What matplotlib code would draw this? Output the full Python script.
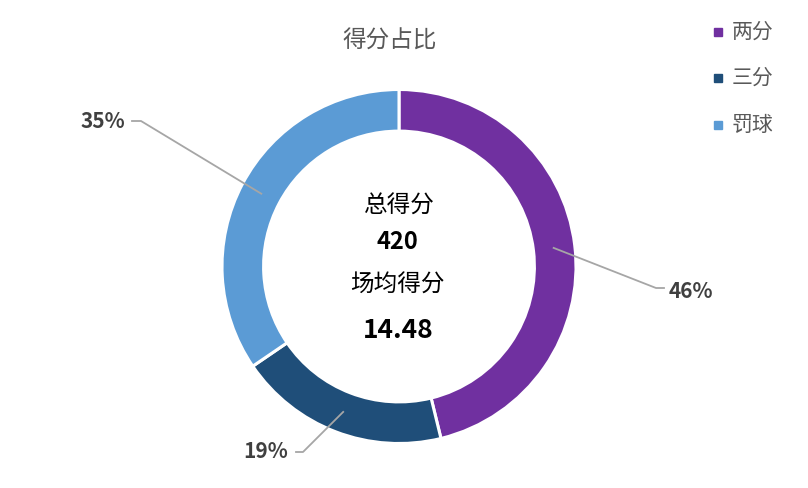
import numpy as np
import matplotlib
matplotlib.use("Agg")
import matplotlib.pyplot as plt

plt.rcParams['font.family'] = ['Noto Sans CJK SC', 'DejaVu Sans']

categories = ['两分', '三分', '罚球']
points = [194, 81, 145]
colors = ['#7030A0', '#1F4E79', '#5B9BD5']
title = '得分占比'
center_labels = ['总得分', '420', '场均得分', '14.48']

W, H = 808, 488
fig = plt.figure(figsize=(W / 100, H / 100), dpi=100)
cx, cy, R = 399, 266.5, 177
ax = fig.add_axes([(cx - R) / W, (H - cy - R) / H, 2 * R / W, 2 * R / H])

wedges, _ = ax.pie(points, colors=colors, startangle=90, counterclock=False,
                   radius=1.0, wedgeprops=dict(width=0.235, edgecolor='white', linewidth=2.2))
ax.set_xlim(-1, 1)
ax.set_ylim(-1, 1)
ax.set_aspect('equal', adjustable='box')
ax.axis('off')

def px(x, y):
    return (x - cx) / R, (cy - y) / R

total = sum(points)
# label layout (pixel positions of elbow, line end, text center)
layout = {
    0: ((656, 288), (664, 288), (691, 291)),
    1: ((303, 452), (296, 452), (266, 452)),
    2: ((141, 121), (132, 121), (102.5, 121.5)),
}
for i, w in enumerate(wedges):
    ang = np.deg2rad((w.theta1 + w.theta2) / 2)
    x0, y0 = 0.88 * np.cos(ang), 0.88 * np.sin(ang)
    e, l, t = layout[i]
    ex, ey = px(*e)
    lx, ly = px(*l)
    ax.plot([x0, ex, lx], [y0, ey, ly], color='#A6A6A6', lw=1.3, clip_on=False)
    tx, ty = px(*t)
    pct = round(points[i] / total * 100)
    ax.text(tx, ty, f'{pct}%', ha='center', va='center', fontsize=15,
            fontweight='bold', color='#404040', clip_on=False)

# center texts
ax.text(*px(399, 206), center_labels[0], ha='center', va='center', fontsize=17, color='#000000')
ax.text(*px(397, 242), center_labels[1], ha='center', va='center', fontsize=17, fontweight='bold', color='#000000')
ax.text(*px(397, 285), center_labels[2], ha='center', va='center', fontsize=17, color='#000000')
ax.text(*px(398, 331), center_labels[3], ha='center', va='center', fontsize=19, fontweight='bold', color='#000000')

# title
fig.text(390 / W, 1 - 41 / H, title, ha='center', va='center', fontsize=17,
         fontweight='medium', color='#595959')

# legend
leg_y = [32, 78, 125]
for name, c, y in zip(categories, colors, leg_y):
    fig.patches.append(plt.Rectangle(((718 - 4) / W, 1 - (y + 4) / H), 8 / W, 8 / H,
                                     transform=fig.transFigure, color=c, figure=fig))
    fig.text(732 / W, 1 - y / H, name, ha='left', va='center', fontsize=15, color='#595959')

fig.savefig('out.png', dpi=100, facecolor='white')
